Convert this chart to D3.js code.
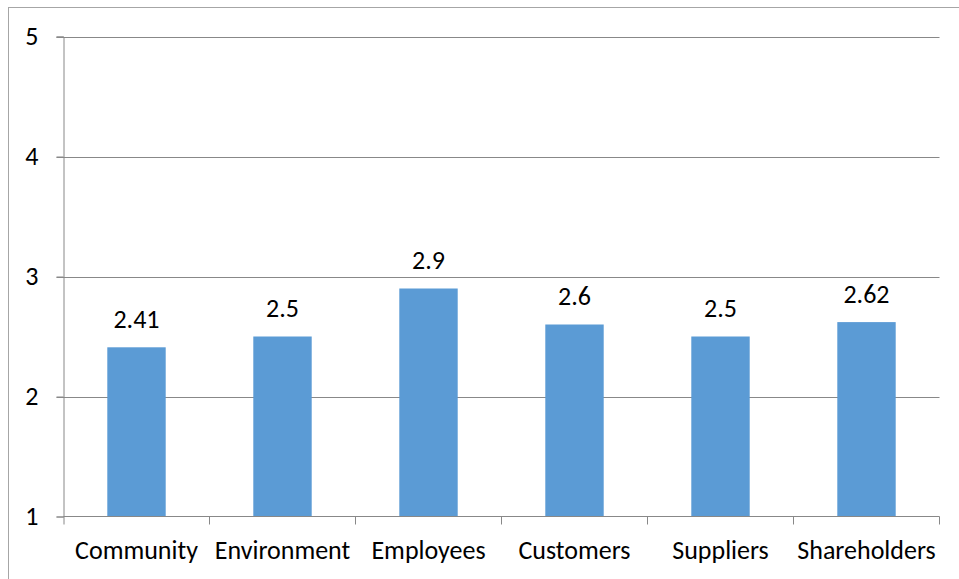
<!DOCTYPE html>
<html><head><meta charset="utf-8">
<script src="https://cdn.jsdelivr.net/npm/d3@7"></script>
<style>body{margin:0;background:#fff}svg{display:block}text{font-family:Carlito,Calibri,Lato,sans-serif;fill:#000}</style>
</head><body>
<svg id="c" width="959" height="579"></svg>
<script>
const categories = ["Community","Environment","Employees","Customers","Suppliers","Shareholders"];
const values = [2.41, 2.5, 2.9, 2.6, 2.5, 2.62];
const valueLabels = ["2.41","2.5","2.9","2.6","2.5","2.62"];
const yTicks = [1,2,3,4,5];

const svg = d3.select("#c");
const L = 63.5, R = 939.5, T = 36.5, B = 516.5;
const fsCat = 26, fsNum = 26;
svg.append("rect").attr("x",8.5).attr("y",7.5).attr("width",960).attr("height",580)
  .attr("fill","none").attr("stroke","#a6a6a6").attr("stroke-width",1);

const x = d3.scaleBand().domain(categories).range([L,R]).paddingInner(0.6).paddingOuter(0.3);
const y = d3.scaleLinear().domain([1,5]).range([B,T]);

// gridlines
svg.append("g").selectAll("line").data(yTicks.filter(d=>d>1)).join("line")
  .attr("x1",L-7).attr("x2",R).attr("y1",d=>Math.round(y(d))+0.5).attr("y2",d=>Math.round(y(d))+0.5)
  .attr("stroke","#888").attr("stroke-width",1);

// bars
svg.append("g").selectAll("rect").data(values).join("rect")
  .attr("x",(d,i)=>x(categories[i])).attr("width",x.bandwidth())
  .attr("y",d=>y(d)).attr("height",d=>B-y(d)).attr("fill","#5B9BD5");

// y axis
const ya = svg.append("g").attr("transform",`translate(${L},0)`)
  .call(d3.axisLeft(y).tickValues(yTicks).tickSize(7).tickPadding(18).tickFormat(d3.format("d")));
ya.selectAll("line,path").attr("stroke","#888");
ya.selectAll("text").style("font-size",fsNum+"px").attr("fill","#000").attr("dy",null).attr("y",7.5);

// x axis
const step = (R-L)/categories.length;
const xa = svg.append("g").attr("transform",`translate(0,${B})`)
  .call(d3.axisBottom(x).tickSize(0));
xa.select("path").attr("d",`M${L},0H${R}`).attr("stroke","#888");
xa.selectAll("text").style("font-size",fsCat+"px").attr("fill","#000").attr("dy",null).attr("y",42.5);
xa.selectAll(".sep").data(d3.range(categories.length+1)).join("line").attr("class","sep")
  .attr("x1",i=>Math.round(L+i*step)-0.5+ (i===0?0.5:0)).attr("x2",i=>Math.round(L+i*step)-0.5+(i===0?0.5:0))
  .attr("y1",0).attr("y2",8).attr("stroke","#888");

// value labels
svg.append("g").selectAll("text").data(values).join("text")
  .attr("x",(d,i)=>x(categories[i])+x.bandwidth()/2)
  .attr("y",d=>y(d)-19.5).attr("text-anchor","middle").style("font-size",fsNum+"px")
  .text((d,i)=>valueLabels[i]);
</script>
</body></html>
